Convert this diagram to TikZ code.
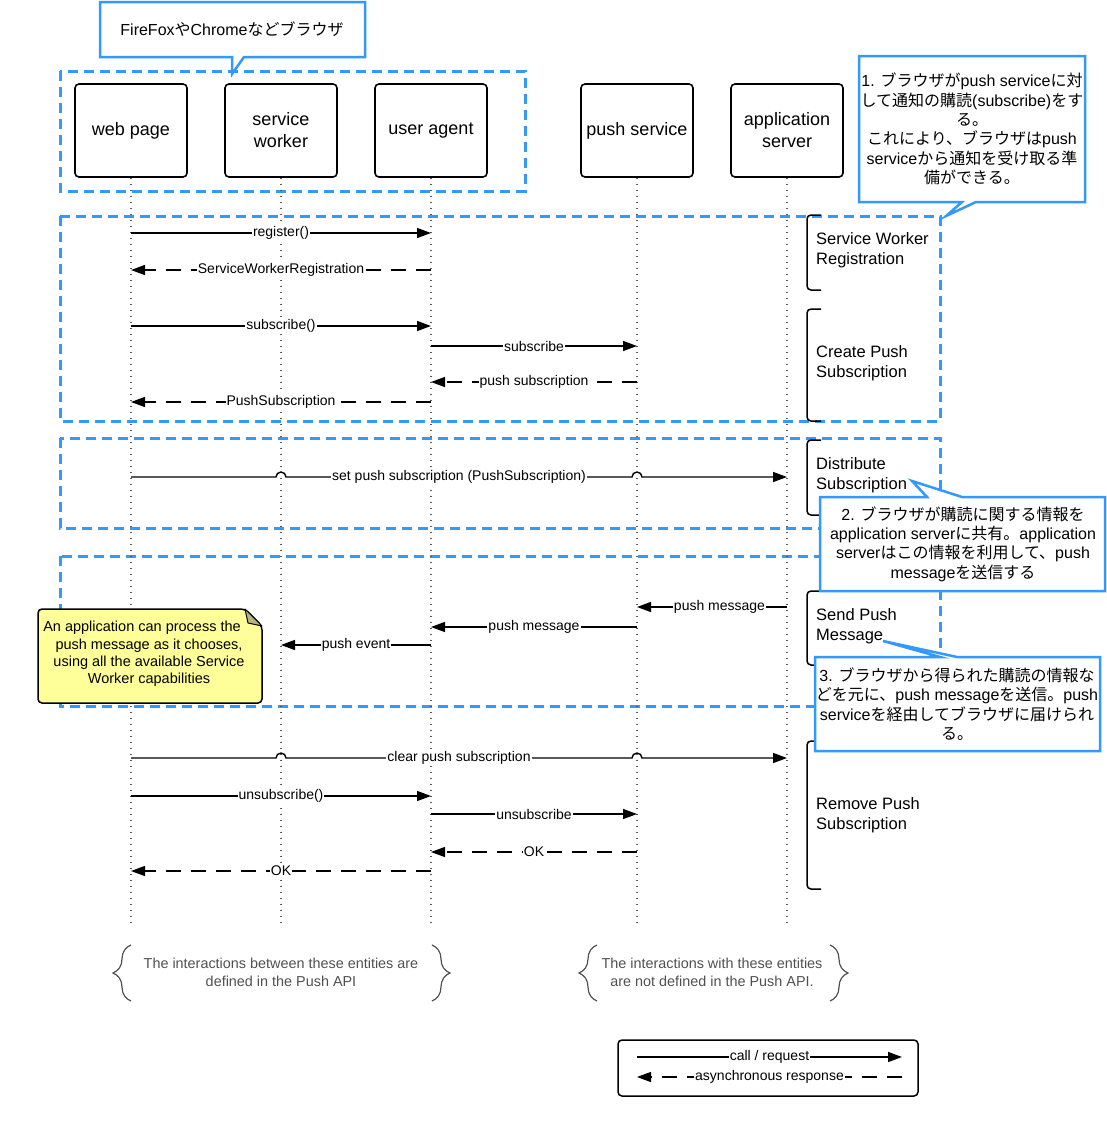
\documentclass[tikz,border=0pt]{standalone}
\usepackage{fontspec}
\setmainfont{Liberation Sans}
\newfontfamily\jp{Noto Sans CJK JP}
\usetikzlibrary{arrows.meta,decorations.pathreplacing}
\definecolor{cblue}{HTML}{3399FF}
\definecolor{notey}{HTML}{FFFF99}
\definecolor{foldc}{HTML}{B5B57E}
\definecolor{ltxt}{HTML}{505050}
\newcommand\J[1]{{\jp #1}}
\newcommand\twoline[2]{\raisebox{3pt}{\begin{tabular}{@{}c@{}}#1\\#2\end{tabular}}}
\begin{document}
\begin{tikzpicture}[x=1pt,y=-1pt,
 actor/.style={draw, line width=1.6pt, rounded corners=4pt, minimum width=112pt, minimum height=93pt, align=center, font=\fontsize{18}{22}\selectfont},
 lifeline/.style={draw=black!65, line width=1.3pt, dash pattern=on 1.3pt off 4.7pt},
 call/.style={line width=1.4pt, -{Triangle[length=14pt,width=10pt]}},
 resp/.style={call, dash pattern=on 15pt off 10pt},
 lbl/.style={fill=white, inner sep=1pt, font=\fontsize{14}{16}\selectfont},
 section/.style={draw=cblue, line width=3pt, dash pattern=on 10pt off 6pt},
 bracket/.style={line width=1.5pt, rounded corners=4pt},
 phase/.style={anchor=west, align=left, inner sep=0pt, font=\fontsize{16.5}{20}\selectfont},
 callout/.style={draw=cblue, fill=white, line width=2.5pt, line join=miter},
 ctext/.style={align=center, font=\fontsize{16}{19.4}\selectfont, inner sep=0pt},
 brace/.style={decorate, decoration={brace, amplitude=18pt}, draw=ltxt, line width=1.2pt},
 btext/.style={align=center, text=ltxt, font=\fontsize{14.4}{18}\selectfont},
]
\useasboundingbox (0,0) rectangle (1107,1135);

% dashed groups
\draw[section] (60,71) rectangle (525,191);
\draw[section] (60,216) rectangle (940,421);
\draw[section] (60,438) rectangle (940,528);
\draw[section] (60,556) rectangle (940,706);

% actors
\node[actor] (wp) at (131,130.5) {\raisebox{1pt}{web page}};
\node[actor] (sw) at (281,130.5) {service\\worker};
\node[actor] (ua) at (431,130.5) {\raisebox{1pt}{user agent}};
\node[actor] (ps) at (637,130.5) {\raisebox{1pt}{push service}};
\node[actor] (as) at (787,130.5) {application\\server};

% lifelines
\draw[lifeline] (wp) -- (wp |- 0,922);
\draw[lifeline] (sw) -- (sw |- 0,922);
\draw[lifeline] (ua) -- (ua |- 0,922);
\draw[lifeline] (ps) -- (ps |- 0,922);
\draw[lifeline] (as) -- (as |- 0,922);

% messages
\draw[call] (wp |- 0,233) -- node[lbl]{register()} (ua |- 0,233);
\draw[resp] (ua |- 0,270) -- node[lbl]{ServiceWorkerRegistration} (wp |- 0,270);
\draw[call] (wp |- 0,326) -- node[lbl]{subscribe()} (ua |- 0,326);
\draw[call] (ua |- 0,346) -- node[lbl]{subscribe} (ps |- 0,346);
\draw[resp] (ps |- 0,382) -- node[lbl]{push subscription} (ua |- 0,382);
\draw[resp] (ua |- 0,402) -- node[lbl]{PushSubscription} (wp |- 0,402);
\draw[call] (wp |- 0,477) -- (276,477) arc[start angle=180,end angle=0,radius=5pt]
  -- node[lbl]{set push subscription (PushSubscription)} (632,477)
  arc[start angle=180,end angle=0,radius=5pt] -- (as |- 0,477);
\draw[call] (as |- 0,607) -- node[lbl,pos=0.45]{push message} (ps |- 0,607);
\draw[call] (ps |- 0,627) -- node[lbl]{push message} (ua |- 0,627);
\draw[call] (ua |- 0,645) -- node[lbl]{push event} (sw |- 0,645);
\draw[call] (wp |- 0,758) -- (276,758) arc[start angle=180,end angle=0,radius=5pt]
  -- node[lbl]{clear push subscription} (632,758)
  arc[start angle=180,end angle=0,radius=5pt] -- (as |- 0,758);
\draw[call] (wp |- 0,796) -- node[lbl]{unsubscribe()} (ua |- 0,796);
\draw[call] (ua |- 0,814) -- node[lbl]{unsubscribe} (ps |- 0,814);
\draw[resp] (ps |- 0,852) -- node[lbl]{OK} (ua |- 0,852);
\draw[resp] (ua |- 0,871) -- node[lbl]{OK} (wp |- 0,871);

% phase brackets
\draw[bracket] (821,215) -- (807,215) -- (807,290) -- (821,290);
\draw[bracket] (821,309) -- (807,309) -- (807,421) -- (821,421);
\draw[bracket] (821,440) -- (807,440) -- (807,515) -- (821,515);
\draw[bracket] (821,591) -- (807,591) -- (807,665) -- (821,665);
\draw[bracket] (821,741) -- (807,741) -- (807,889) -- (821,889);
\node[phase] (p1) at (816,250) {Service Worker\\Registration};
\node[phase] (p2) at (816,363) {Create Push\\Subscription};
\node[phase] (p3) at (816,475) {Distribute\\Subscription};
\node[phase] (p4) at (816,626) {Send Push\\Message};
\node[phase] (p5) at (816,815) {Remove Push\\Subscription};

% note
\draw[fill=notey, line width=1.5pt, rounded corners=4pt] (38,609) -- (245,609) -- (262,626) -- (262,703) -- (38,703) -- cycle;
\filldraw[fill=foldc, line width=1pt, line join=round] (245,609) -- (248,623) -- (262,626) -- cycle;
\node[align=center, font=\fontsize{14.5}{17.4}\selectfont, inner sep=0pt] (note) at (149,654)
  {\hspace*{-14pt}An application can process the\\push message as it chooses,\\using all the available Service\\Worker capabilities};

% callouts
\draw[callout] (100,2) -- (365,2) -- (365,57) -- (244,57) -- (232,74) -- (232,57) -- (100,57) -- cycle;
\node[ctext] (c0) at (232,29) {FireFox\J{や}Chrome\J{などブラウザ}};

\draw[callout] (859,56) -- (1085,56) -- (1085,202) -- (976,202) -- (946,216) -- (962,202) -- (859,202) -- cycle;
\node[ctext] (c1) at (972,129) {1. \J{ブラウザが}push service\J{に対}\\\J{して通知の購読}(subscribe)\J{をす}\\\J{る。}\\\J{これにより、ブラウザは}push\\service\J{から通知を受け取る準}\\\J{備ができる。}};

\draw[callout] (820,497) -- (927,497) -- (912,481) -- (962,497) -- (1105,497) -- (1105,591) -- (820,591) -- cycle;
\node[ctext] (c2) at (963,544) {2. \J{ブラウザが購読に関する情報を}\\application server\J{に共有。}application\\server\J{はこの情報を利用して、}push\\message\J{を送信する}};

\draw[callout] (815,657) -- (940,657) -- (883,641) -- (957,657) -- (1100,657) -- (1100,751) -- (815,751) -- cycle;
\node[ctext] (c3) at (957,704) {3. \J{ブラウザから得られた購読の情報な}\\\J{どを元に、}push message\J{を送信。}push\\service\J{を経由してブラウザに届けられ}\\\J{る。}};

% bottom notes
\node[btext] (api1) at (281,972) {The interactions between these entities are\\defined in the Push API};
\node[btext] (api2) at (712,972) {The interactions with these entities\\are not defined in the Push API.};
\draw[brace] (131,1001) -- (131,945);
\draw[brace] (432,945) -- (432,1001);
\draw[brace] (597,1001) -- (597,945);
\draw[brace] (830,945) -- (830,1001);

% legend
\node[draw, line width=1.5pt, rounded corners=4pt, minimum width=300pt, minimum height=56pt] (leg) at (768,1068) {};
\coordinate (la) at (637,1057);
\coordinate (lb) at (902,1057);
\coordinate (lc) at (902,1077);
\coordinate (ld) at (637,1077);
\draw[call] (la) -- node[lbl]{call / request} (lb);
\draw[resp] (lc) -- node[lbl]{asynchronous response} (ld);
\end{tikzpicture}
\end{document}
